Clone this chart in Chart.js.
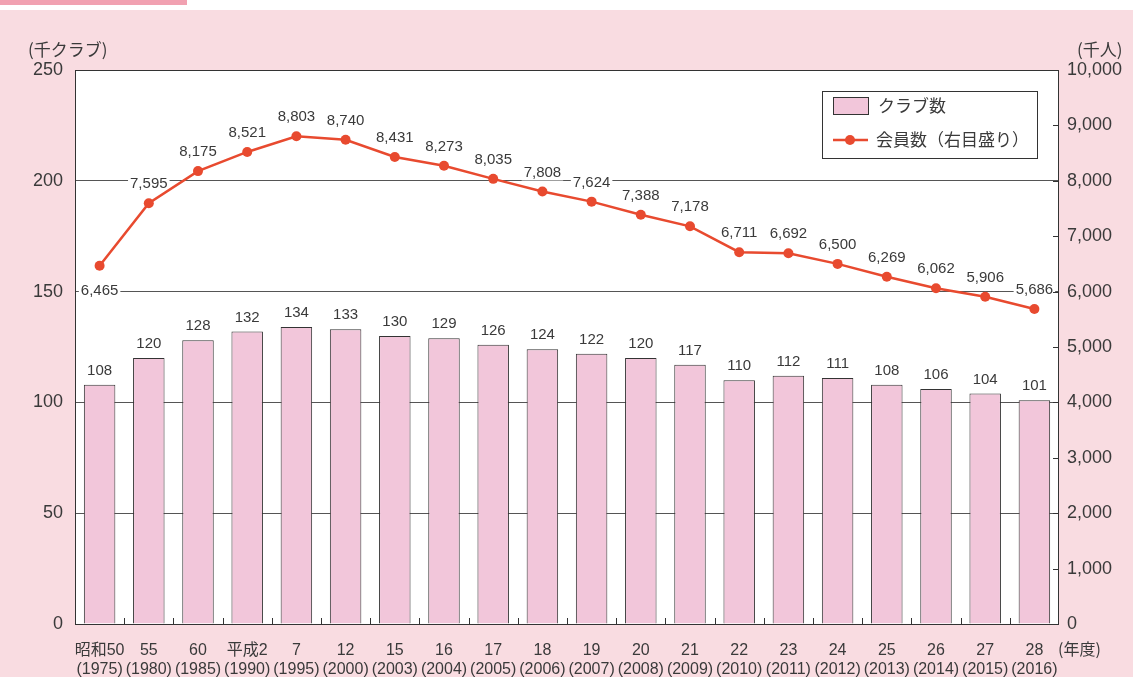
<!DOCTYPE html>
<html>
<head>
<meta charset="utf-8">
<script src="https://cdn.jsdelivr.net/npm/chart.js@4"></script>
<style>
  body { margin: 0; background: #f9dce1; }
  #wrap { width: 1133px; height: 677px; }
</style>
</head>
<body>
<div id="wrap"><canvas id="grafico" width="1133" height="677"></canvas></div>
<script>
const eraLabels = ['昭和50', '55', '60', '平成2', '7', '12', '15', '16', '17', '18', '19', '20', '21', '22', '23', '24', '25', '26', '27', '28'];
const yearLabels = ['(1975)', '(1980)', '(1985)', '(1990)', '(1995)', '(2000)', '(2003)', '(2004)', '(2005)', '(2006)', '(2007)', '(2008)', '(2009)', '(2010)', '(2011)', '(2012)', '(2013)', '(2014)', '(2015)', '(2016)'];
const clubs = [108, 120, 128, 132, 134, 133, 130, 129, 126, 124, 122, 120, 117, 110, 112, 111, 108, 106, 104, 101];
const members = [6465, 7595, 8175, 8521, 8803, 8740, 8431, 8273, 8035, 7808, 7624, 7388, 7178, 6711, 6692, 6500, 6269, 6062, 5906, 5686];

const FONT = "'Liberation Sans', 'Noto Sans CJK JP', sans-serif";
const JP = "'Noto Sans CJK JP', sans-serif";
const TXT = '#3a3a3a';
const BAR = '#f2c6da';
const LINE = '#e84a2f';

const fmt = v => v.toLocaleString('en-US');

// background, plot frame, inside ticks, value labels, legend, unit titles
const decor = {
  id: 'decor',
  beforeDraw(chart) {
    const { ctx, chartArea: a, width } = chart;
    ctx.save();
    ctx.fillStyle = '#f9dce1';
    ctx.fillRect(0, 0, width, chart.height);
    ctx.fillStyle = '#ffffff';
    ctx.fillRect(0, 0, width, 10);
    ctx.fillStyle = '#f1a1b1';
    ctx.fillRect(0, 0, 187, 5);
    ctx.fillStyle = '#ffffff';
    ctx.fillRect(a.left, a.top, a.right - a.left, a.bottom - a.top);
    ctx.restore();
  },
  beforeDatasetsDraw(chart) {
    // white boxes behind the value labels hide the grid, marks go on top
    const { ctx } = chart;
    ctx.save();
    ctx.font = '15px ' + FONT;
    ctx.fillStyle = '#ffffff';
    const box = (txt, cx, cy) => {
      const w = ctx.measureText(txt).width;
      ctx.fillRect(cx - w / 2 - 2, cy - 8, w + 4, 16);
    };
    chart.getDatasetMeta(1).data.forEach((bar, i) => box(String(clubs[i]), bar.x, bar.y - 14));
    chart.getDatasetMeta(0).data.forEach((pt, i) => box(fmt(members[i]), pt.x, pt.y + (i === 0 ? 25 : -19)));
    ctx.restore();
  },
  afterDatasetsDraw(chart) {
    const { ctx, chartArea: a, scales } = chart;
    ctx.save();
    ctx.strokeStyle = '#333';
    ctx.lineWidth = 1;
    ctx.strokeRect(a.left + 0.5, a.top + 0.5, a.right - a.left - 1, a.bottom - a.top);

    // x ticks between categories, pointing up
    const x = scales.x;
    ctx.beginPath();
    for (let i = 1; i < eraLabels.length; i++) {
      const px = Math.round((x.getPixelForValue(i - 1) + x.getPixelForValue(i)) / 2) + 0.5;
      ctx.moveTo(px, a.bottom);
      ctx.lineTo(px, a.bottom - 6);
    }
    // right axis ticks, pointing inward
    const y2 = scales.y2;
    y2.ticks.forEach(t => {
      const py = Math.round(y2.getPixelForValue(t.value)) + 0.5;
      ctx.moveTo(a.right - 6, py);
      ctx.lineTo(a.right, py);
    });
    ctx.stroke();

    ctx.font = '15px ' + FONT;
    ctx.textAlign = 'center';
    ctx.textBaseline = 'middle';
    ctx.fillStyle = TXT;
    chart.getDatasetMeta(1).data.forEach((bar, i) => ctx.fillText(String(clubs[i]), bar.x, bar.y - 14));
    chart.getDatasetMeta(0).data.forEach((pt, i) => ctx.fillText(fmt(members[i]), pt.x, pt.y + (i === 0 ? 25 : -19)));

    // legend
    ctx.fillStyle = '#ffffff';
    ctx.fillRect(822, 91, 215, 67);
    ctx.strokeStyle = '#333';
    ctx.strokeRect(822.5, 91.5, 215, 67);
    ctx.fillStyle = BAR;
    ctx.fillRect(833, 97, 35, 17);
    ctx.strokeRect(833.5, 97.5, 35, 17);
    ctx.strokeStyle = LINE;
    ctx.lineWidth = 2.5;
    ctx.beginPath();
    ctx.moveTo(833, 140);
    ctx.lineTo(868, 140);
    ctx.stroke();
    ctx.fillStyle = LINE;
    ctx.beginPath();
    ctx.arc(850, 140, 5, 0, Math.PI * 2);
    ctx.fill();
    ctx.fillStyle = TXT;
    ctx.font = '17px ' + JP;
    ctx.textAlign = 'left';
    ctx.fillText('クラブ数', 878, 106);
    ctx.fillText('会員数（右目盛り）', 876, 140);

    // unit titles
    ctx.font = '17px ' + JP;
    ctx.fillText('(千クラブ)', 28, 50);
    ctx.fillText('(千人)', 1077, 50);
    ctx.font = '16px ' + JP;
    ctx.fillText('(年度)', 1058, 649);
    ctx.restore();
  }
};

new Chart(document.getElementById('grafico'), {
  data: {
    labels: eraLabels.map((e, i) => [e, yearLabels[i]]),
    datasets: [{
      type: 'line',
      label: '会員数（右目盛り）',
      data: members,
      yAxisID: 'y2',
      borderColor: LINE,
      borderWidth: 2.5,
      pointRadius: 5,
      pointBackgroundColor: LINE,
      pointBorderWidth: 0,
      tension: 0
    }, {
      type: 'bar',
      label: 'クラブ数',
      data: clubs,
      yAxisID: 'y',
      backgroundColor: BAR,
      borderColor: '#333',
      borderWidth: 1,
      barPercentage: 0.64,
      categoryPercentage: 1
    }]
  },
  options: {
    responsive: false,
    animation: false,
    layout: { padding: { top: 70 } },
    plugins: {
      legend: { display: false },
      tooltip: { enabled: false }
    },
    scales: {
      x: {
        grid: { display: false, drawTicks: false },
        border: { display: false },
        ticks: { color: TXT, font: { family: FONT, size: 16 }, padding: 17, maxRotation: 0, autoSkip: false },
        afterFit(s) { s.height = 53; }
      },
      y: {
        position: 'left',
        min: 0,
        max: 250,
        ticks: { stepSize: 50, color: TXT, font: { family: FONT, size: 18 }, padding: 12 },
        grid: { color: '#555', drawTicks: false },
        border: { display: false },
        afterFit(s) { s.width = 75; }
      },
      y2: {
        position: 'right',
        min: 0,
        max: 10000,
        ticks: { stepSize: 1000, color: TXT, font: { family: FONT, size: 18 }, padding: 8, callback: v => fmt(v) },
        grid: { drawOnChartArea: false, drawTicks: false },
        border: { display: false },
        afterFit(s) { s.width = 74; }
      }
    }
  },
  plugins: [decor]
});
</script>
</body>
</html>
